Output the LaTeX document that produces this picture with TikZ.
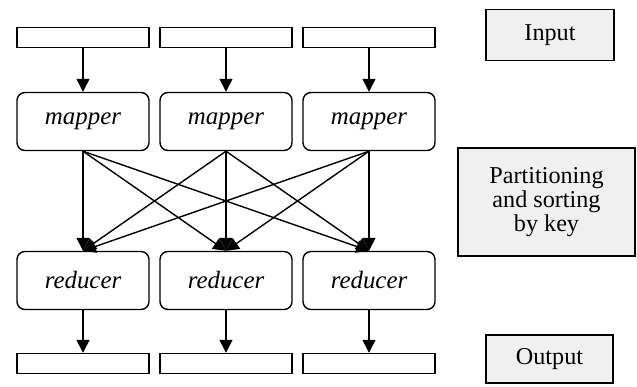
\documentclass[tikz,border=0pt]{standalone}
\usepackage{fontspec}
\setmainfont{Liberation Serif}
\usetikzlibrary{arrows.meta}

\begin{document}
\begin{tikzpicture}[x=0.025cm, y=-0.025cm, line width=1pt,
    >={Triangle[length=0.32cm,width=0.32cm]},
    bar/.style={draw, minimum width=3.3cm, minimum height=0.5cm, inner sep=0pt},
    task/.style={draw, rounded corners=0.2cm, minimum width=3.3cm, minimum height=1.45cm,
      inner sep=0pt, font=\fontsize{17.7}{20}\selectfont\itshape},
    legend/.style={draw, fill=black!6, align=center, inner sep=0pt,
      font=\fontsize{17.2}{16.8}\selectfont}]
    \useasboundingbox (0,0) rectangle (637,387);

    % the three columns
    \foreach \i/\x in {1/83,2/226,3/369} {
      \node[bar] (in\i) at (\x,37.5) {};
      \node[task] (map\i) at (\x,121.5) {mapper};
      \node[task] (red\i) at (\x,280.5) {reducer};
      \node[bar] (out\i) at (\x,363.5) {};
      \draw[->] (in\i) -- (map\i);
      \draw[->] (red\i) -- (out\i);
    }

    % every mapper feeds every reducer
    \foreach \i in {1,2,3}
      \foreach \j in {1,2,3}
        \draw[->] (map\i.south) -- (red\j.north);

    \node[legend, minimum width=3.2cm, minimum height=1.275cm] (input) at (550,35) {Input};
    \node[legend, minimum width=4.425cm, minimum height=2.7cm] (part) at (546.5,202) {Partitioning\\and sorting\\by key};
    \node[legend, minimum width=3.175cm, minimum height=1.2cm] (output) at (549.5,359) {Output};
  \end{tikzpicture}
\end{document}
